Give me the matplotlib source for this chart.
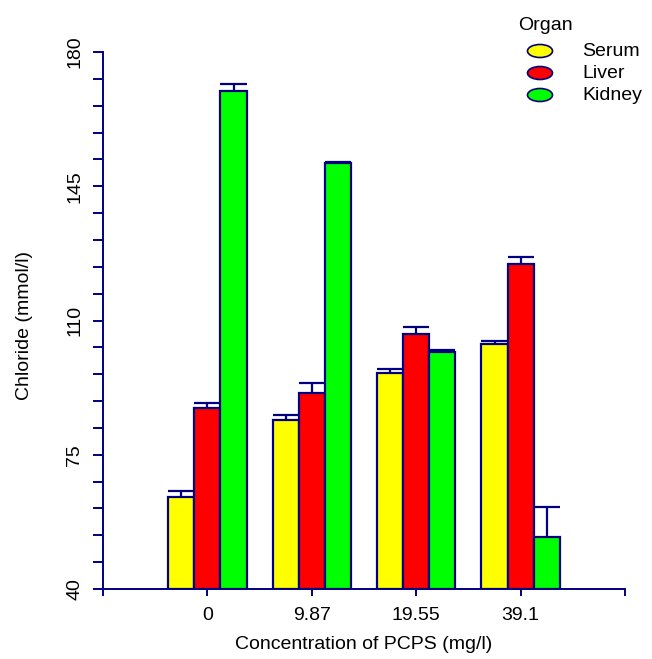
import matplotlib.pyplot as plt
from matplotlib.patches import Ellipse
import numpy as np

plt.rcParams['font.family'] = ['Liberation Sans', 'DejaVu Sans']

concentrations = ['0', '9.87', '19.55', '39.1']
organs = ['Serum', 'Liver', 'Kidney']
colors = ['#ffff00', '#ff0000', '#00ff00']

serum = [64.0, 84.1, 96.4, 103.9]
serum_err = [1.5, 1.3, 0.9, 0.7]
liver = [87.2, 91.0, 106.5, 124.7]
liver_err = [1.3, 2.8, 1.7, 1.8]
kidney = [169.9, 151.0, 101.7, 53.5]
kidney_err = [1.7, 0.2, 0.6, 8.0]

navy = '#000080'
fs = 14

fig = plt.figure(figsize=(6.52, 6.59), dpi=100)
ax = fig.add_axes([0.158, 0.1062, 0.8006, 0.8149])

x = np.arange(1, len(concentrations) + 1)
width = 0.25
series = [(serum, serum_err), (liver, liver_err), (kidney, kidney_err)]
for i, (vals, errs) in enumerate(series):
    pos = x + (i - 1) * width
    vals = np.array(vals)
    tops = vals + np.array(errs)
    ax.bar(pos, vals - 40, width=width, bottom=40, color=colors[i],
           edgecolor=navy, linewidth=1.6, zorder=2)
    # upper error bars only
    ax.vlines(pos, vals, tops, color=navy, linewidth=1.6, zorder=3)
    ax.hlines(tops, pos - width / 2, pos + width / 2, color=navy, linewidth=1.6, zorder=3)

ax.set_xlim(0, 5)
ax.set_ylim(40, 180)
ax.set_xticks([0] + list(x) + [5])
ax.set_xticklabels([''] + concentrations + [''])
ax.set_yticks(np.arange(40, 181, 35))
ax.set_yticks(np.arange(40, 181, 7), minor=True)
for lab in ax.get_yticklabels():
    lab.set_rotation(90)
    lab.set_va('center')

for s in ['top', 'right']:
    ax.spines[s].set_visible(False)
for s in ['left', 'bottom']:
    ax.spines[s].set_color(navy)
    ax.spines[s].set_linewidth(1.4)
ax.tick_params(axis='both', which='both', color=navy, width=1.4,
               labelsize=fs, labelcolor='black')
ax.tick_params(axis='y', which='both', length=7.2, pad=7)
ax.tick_params(axis='x', which='both', length=5, pad=8)

ax.set_xlabel('Concentration of PCPS (mg/l)', fontsize=fs)
ax.set_ylabel('Chloride (mmol/l)', fontsize=fs)
ax.xaxis.set_label_coords(0.5, -0.088)
ax.yaxis.set_label_coords(-0.134, 0.49)

# legend
fig.text(518 / 652, 1 - 26 / 659, 'Organ', fontsize=fs, va='center', ha='left')
for i, name in enumerate(organs):
    yy = 1 - (51 + i * 22) / 659
    el = Ellipse((540 / 652, yy), 25 / 652, 13 / 659, transform=fig.transFigure,
                 facecolor=colors[i], edgecolor=navy, linewidth=1.2)
    fig.patches.append(el)
    fig.text(582 / 652, yy, name, fontsize=fs, va='center', ha='left')

fig.savefig('out.png', dpi=100)
